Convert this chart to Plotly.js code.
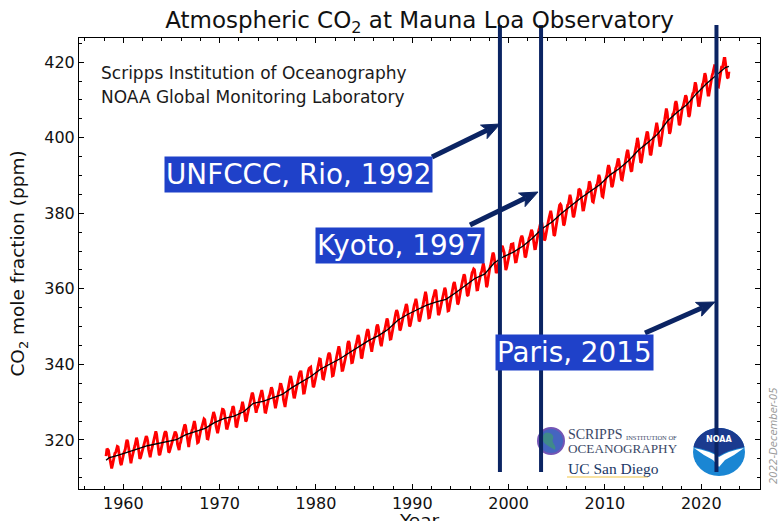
<!DOCTYPE html>
<html><head><meta charset="utf-8">
<script src="https://cdn.plot.ly/plotly-3.0.1.min.js"></script>
<style>html,body{margin:0;padding:0;background:#fff}#chart{width:779px;height:521px}</style>
</head><body><div id="chart"></div>
<script>
// ---- DATA ----
const monthlyStartYear = 1958;
const monthlyStartMonth = 3; // March 1958
const co2Monthly = [
315.70,317.45,317.51,317.24,315.86,314.93,313.20,312.43,313.33,314.67,
315.58,316.48,316.65,317.72,318.29,318.15,316.54,314.80,313.84,313.33,314.81,315.58,
316.43,316.98,317.58,319.03,320.04,319.59,318.18,315.90,314.17,313.83,315.00,316.19,
316.90,317.70,318.54,319.48,320.58,319.77,318.57,316.79,314.99,315.31,316.10,317.01,
317.94,318.55,319.68,320.57,321.02,320.62,319.61,317.40,316.25,315.42,316.69,317.70,
318.74,319.07,319.86,321.38,322.25,321.48,319.74,317.77,316.21,315.99,317.07,318.35,
319.57,320.01,320.74,321.84,322.26,321.89,320.44,318.69,316.70,316.87,317.68,318.71,
319.44,320.44,320.89,322.14,322.17,321.87,321.21,318.87,317.81,317.30,318.87,319.42,
320.62,321.60,322.39,323.70,324.08,323.75,322.38,320.36,318.64,318.10,319.79,321.03,
322.33,322.50,323.04,324.42,325.00,324.09,322.54,320.92,319.25,319.39,320.73,321.96,
322.57,323.15,323.89,325.02,325.57,325.36,324.14,322.11,320.33,320.25,321.32,322.89,
324.00,324.41,325.63,326.66,327.38,326.71,325.88,323.66,322.38,321.78,322.85,324.12,
325.06,325.98,326.93,328.13,328.08,327.67,326.34,324.69,323.10,323.06,324.01,325.13,
326.17,326.68,327.17,327.79,328.93,328.57,327.36,325.43,323.36,323.56,324.80,326.01,
326.77,327.63,327.75,329.72,330.07,329.09,328.04,326.32,324.84,325.20,326.50,327.55,
328.55,329.56,330.30,331.50,332.48,332.07,330.87,329.31,327.51,327.18,328.16,328.64,
329.35,330.71,331.48,332.65,333.19,332.20,331.07,329.15,327.33,327.28,328.31,329.58,
330.73,331.46,331.94,333.11,333.95,333.42,331.97,329.95,328.50,328.36,329.38,330.78,
331.56,332.74,333.36,334.74,334.72,333.98,333.08,330.68,328.96,328.72,330.16,331.62,
332.68,333.17,334.96,336.14,336.93,336.17,334.88,332.56,331.29,331.27,332.41,333.60,
334.95,335.25,336.66,337.69,338.03,338.01,336.41,334.41,332.37,332.41,333.75,334.90,
336.14,336.69,338.27,338.95,339.21,339.26,337.54,335.75,333.98,334.19,335.31,336.81,
337.90,338.34,340.07,340.93,341.45,341.36,339.45,337.67,336.25,336.14,337.30,338.29,
339.29,340.55,341.63,342.60,343.04,342.54,340.82,338.48,336.95,337.05,338.58,339.91,
340.93,341.76,342.78,343.96,344.77,343.88,342.42,340.24,338.38,338.41,339.44,340.78,
341.57,342.79,343.37,345.40,346.14,345.76,344.32,342.51,340.46,340.53,341.79,343.20,
344.21,344.92,345.68,347.37,347.78,347.16,345.79,343.74,341.59,341.86,343.31,345.00,
345.48,346.41,347.91,348.66,349.28,348.65,346.90,345.26,343.47,343.35,344.73,346.12,
346.78,347.48,348.25,349.86,350.52,349.98,348.25,346.17,345.48,344.82,346.22,347.48,
348.73,348.92,349.81,351.40,352.15,351.58,350.21,348.20,346.66,346.72,348.08,349.28,
350.51,351.70,352.50,353.67,354.35,353.88,352.80,350.49,348.97,349.37,350.42,351.62,
353.07,353.43,354.08,355.72,355.95,355.44,354.05,351.84,350.09,350.33,351.55,352.91,
353.86,355.10,355.75,356.38,357.38,356.39,354.89,353.06,351.38,351.69,353.14,354.41,
354.93,355.82,357.33,358.77,359.23,358.23,356.30,353.97,352.34,352.43,353.89,355.21,
356.34,357.21,357.97,359.22,359.71,359.43,357.15,354.99,353.01,353.41,354.42,355.68,
357.10,357.42,358.59,359.39,360.30,359.64,357.46,355.76,354.14,354.23,355.53,357.03,
358.36,359.04,360.11,361.36,361.78,360.94,359.51,357.59,355.86,356.21,357.65,359.10,
360.04,361.00,361.98,363.44,363.83,363.33,361.78,359.33,358.32,358.14,359.61,360.82,
362.20,363.36,364.28,364.69,365.25,365.06,363.69,361.55,359.69,359.72,361.04,362.39,
363.24,364.21,364.65,366.49,366.77,365.73,364.46,362.40,360.44,360.98,362.65,364.51,
365.39,366.10,367.36,368.79,369.56,369.13,367.98,366.10,364.16,364.54,365.67,367.30,
368.35,369.28,369.84,371.15,371.12,370.46,369.61,367.06,364.95,365.52,366.88,368.26,
369.45,369.71,370.75,371.98,371.75,371.87,370.02,368.27,367.15,367.18,368.53,369.83,
370.76,371.69,372.63,373.55,374.03,373.40,371.68,369.78,368.34,368.61,369.94,371.42,
372.70,373.37,373.85,374.88,375.64,375.15,373.95,371.91,370.58,370.60,372.01,373.79,
374.63,375.41,376.19,377.49,378.08,377.40,375.84,374.05,372.81,373.15,374.67,375.97,
377.00,377.87,378.88,380.35,380.63,379.57,377.79,375.86,374.06,374.24,375.86,377.48,
378.43,379.71,380.92,382.16,382.40,382.06,380.51,378.59,376.81,377.09,378.43,380.16,
381.38,382.17,382.47,384.33,384.91,383.98,382.37,380.51,379.02,379.23,380.74,381.93,
382.93,383.81,384.52,386.48,386.33,385.99,384.48,382.05,380.87,380.88,382.32,383.64,
385.14,385.71,385.85,386.71,388.46,387.99,386.63,384.35,383.11,382.95,384.20,385.51,
386.73,387.40,387.76,389.44,390.19,389.44,387.74,385.84,384.49,384.33,386.05,387.33,
388.61,389.54,390.19,391.88,392.75,392.11,390.29,388.52,386.93,387.25,388.58,389.98,
391.36,391.96,392.37,393.46,394.51,393.84,392.50,390.21,388.98,388.87,390.11,391.37,
393.09,393.57,394.45,396.27,396.79,395.70,394.58,392.58,391.27,391.07,392.94,394.28,
395.66,396.94,397.36,398.38,399.96,398.94,397.41,395.20,393.41,393.58,395.20,396.69,
397.78,398.31,399.40,401.05,401.65,401.20,399.11,397.03,395.38,395.62,397.18,398.71,
399.97,400.29,401.54,403.28,403.96,402.80,401.31,398.93,397.63,398.29,400.16,401.85,
402.56,404.12,404.87,407.45,407.72,406.83,404.41,402.27,401.05,401.59,403.55,404.45,
406.17,406.46,407.22,409.04,409.69,408.88,407.12,405.13,403.37,403.63,405.12,406.81,
407.96,408.32,409.41,410.24,411.24,410.79,408.71,406.99,405.51,406.00,408.02,409.07,
410.83,411.75,411.97,413.32,414.66,413.92,411.77,409.95,408.54,408.53,410.27,411.76,
413.40,414.11,414.51,416.21,417.07,416.39,414.38,412.55,411.29,411.28,412.89,414.02,
415.15,416.47,417.16,418.24,419.05,418.97,416.70,414.62,413.61,413.48,414.98,416.43,
418.01,418.99,418.45,420.02,420.99,420.99,418.90,417.19,415.95,415.78,417.51
];
// deseasonalized trend (black line): start, annual means at mid-year, end
const trendYears = [1958.21,1958.5,1959.5,1960.5,1961.5,1962.5,1963.5,1964.5,1965.5,1966.5,1967.5,
1968.5,1969.5,1970.5,1971.5,1972.5,1973.5,1974.5,1975.5,1976.5,1977.5,1978.5,1979.5,1980.5,
1981.5,1982.5,1983.5,1984.5,1985.5,1986.5,1987.5,1988.5,1989.5,1990.5,1991.5,1992.5,1993.5,
1994.5,1995.5,1996.5,1997.5,1998.5,1999.5,2000.5,2001.5,2002.5,2003.5,2004.5,2005.5,2006.5,
2007.5,2008.5,2009.5,2010.5,2011.5,2012.5,2013.5,2014.5,2015.5,2016.5,2017.5,2018.5,2019.5,
2020.5,2021.5,2022.5,2022.87];
const trendCo2 = [314.6,315.23,315.98,316.91,317.64,318.45,318.99,319.62,320.04,321.37,322.18,
323.05,324.62,325.68,326.32,327.46,329.68,330.19,331.12,332.03,333.84,335.41,336.84,338.76,
340.12,341.48,343.15,344.87,346.35,347.61,349.31,351.69,353.20,354.45,355.70,356.54,357.21,
358.96,360.97,362.74,363.88,366.84,368.54,369.71,371.32,373.45,375.98,377.70,379.98,382.09,
384.02,385.83,387.64,390.10,391.85,394.06,396.74,398.81,401.01,404.41,406.76,408.72,411.66,
414.24,416.45,418.56,418.9];
const xTickVals = [1960,1970,1980,1990,2000,2010,2020];
const yTickVals = [320,340,360,380,400,420];
const eventLabels = ['UNFCCC, Rio, 1992','Kyoto, 1997','Paris, 2015'];
const eventLineYears = [1999.1, 2003.37, 2021.58];
const sourceLines = ['Scripps Institution of Oceanography','NOAA Global Monitoring Laboratory'];
const dateStamp = '2022-December-05';

// ---- GEOMETRY ----
const W = 779, H = 521;
const L = 79, R = 760, T = 38, B = 489;
const xRange = [1955.4, 2026.1], yRange = [307.0, 426.4];
const px = x => (x - L) / (R - L);
const py = y => (B - y) / (B - T);
const yearToPaper = yr => (yr - xRange[0]) / (xRange[1] - xRange[0]);
const FONT = 'DejaVu Sans, Verdana, sans-serif';
const NAVY = '#0b2463';
const BOXBLUE = '#1f41c9';

const monthlyX = co2Monthly.map((v, i) => {
  const m = monthlyStartMonth - 1 + i;
  return monthlyStartYear + (m + 0.5) / 12;
});

const traces = [
  {x: monthlyX, y: co2Monthly, type: 'scatter', mode: 'lines',
   line: {color: '#ff0000', width: 2.8}, hoverinfo: 'skip'},
  {x: trendYears, y: trendCo2, type: 'scatter', mode: 'lines',
   line: {color: '#000000', width: 1.3}, hoverinfo: 'skip'}
];

const shapes = [];
// Scripps globe
shapes.push({type: 'circle', xref: 'paper', yref: 'paper', xsizemode: 'pixel', ysizemode: 'pixel',
  xanchor: px(551), yanchor: py(441), x0: -13, x1: 13, y0: -13, y1: 13,
  fillcolor: '#4565c0', line: {color: '#7355b5', width: 2}, layer: 'above'});
shapes.push({type: 'path', xref: 'paper', yref: 'paper', xsizemode: 'pixel', ysizemode: 'pixel',
  xanchor: px(551), yanchor: py(441),
  path: 'M -6,8 C -2,10 4,6 2,2 C 0,-2 6,-4 4,-9 C 0,-6 -6,-4 -8,0 C -9,4 -8,6 -6,8 Z',
  fillcolor: '#3f8a8a', line: {width: 0}, layer: 'above'});
// UC San Diego underline
shapes.push({type: 'line', xref: 'paper', yref: 'paper', x0: px(567), x1: px(648), y0: py(477), y1: py(477),
  line: {color: '#f1c646', width: 1.2}, layer: 'above'});
// NOAA logo
const noaaBase = {xref: 'paper', yref: 'paper', xsizemode: 'pixel', ysizemode: 'pixel',
  xanchor: px(719), yanchor: py(452), layer: 'above'};
shapes.push(Object.assign({type: 'circle', x0: -26, x1: 26, y0: -24, y1: 24,
  fillcolor: '#1a86d3', line: {width: 0}}, noaaBase));
shapes.push(Object.assign({type: 'path',
  path: 'M -25.4,5 Q -9,2 0,-4 Q 9,2 25.4,5 C 23.5,16 12.5,24 0,24 C -12.5,24 -23.5,16 -25.4,5 Z',
  fillcolor: '#1b3b8f', line: {width: 0}}, noaaBase));
shapes.push(Object.assign({type: 'path',
  path: 'M -25,4 Q -9,1 0,-5 Q 9,1 25,4 Q 16,-3 6,-8 L 0,-15 L -6,-8 Q -16,-3 -25,4 Z',
  fillcolor: '#ffffff', line: {width: 0}}, noaaBase));
// event vertical lines
eventLineYears.forEach(yr => {
  shapes.push({type: 'line', xref: 'paper', yref: 'paper',
    x0: yearToPaper(yr), x1: yearToPaper(yr), y0: py(472), y1: py(25),
    line: {color: NAVY, width: 4}, layer: 'above'});
});
// arrows drawn as shapes: head position (pixels) and tail offset (pixels, screen y down)
const arrowHeads = [[500, 124], [538, 192], [715, 302]];
const arrowOffsets = [[-68, 33], [-68, 33], [-70, 31]];
arrowHeads.forEach((h, i) => {
  const dx = -arrowOffsets[i][0], dyUp = arrowOffsets[i][1]; // tail->head vector (y up)
  const len = Math.hypot(dx, dyUp);
  const ux = dx / len, uy = dyUp / len, nx = -uy, ny = ux;
  const tailX = -dx, tailY = -dyUp;
  const hl = 18, hw = 7.5, notch = 4;
  const bx = -hl * ux, by = -hl * uy;
  const base = {xref: 'paper', yref: 'paper', xsizemode: 'pixel', ysizemode: 'pixel',
    xanchor: px(h[0]), yanchor: py(h[1]), layer: 'above'};
  shapes.push(Object.assign({type: 'path',
    path: `M ${tailX.toFixed(2)},${tailY.toFixed(2)} L ${(bx + notch * ux).toFixed(2)},${(by + notch * uy).toFixed(2)}`,
    line: {color: NAVY, width: 5}}, base));
  const p1 = [bx + hw * nx, by + hw * ny], p2 = [bx - hw * nx, by - hw * ny], pn = [bx + notch * ux, by + notch * uy];
  shapes.push(Object.assign({type: 'path',
    path: `M 0,0 L ${p1[0].toFixed(2)},${p1[1].toFixed(2)} L ${pn[0].toFixed(2)},${pn[1].toFixed(2)} L ${p2[0].toFixed(2)},${p2[1].toFixed(2)} Z`,
    fillcolor: NAVY, line: {color: NAVY, width: 1}}, base));
});

const annotations = [];
// source lines
sourceLines.forEach((t, i) => {
  annotations.push({text: t, xref: 'paper', yref: 'paper', x: px(99), y: py(i === 0 ? 73 : 97),
    xanchor: 'left', yanchor: 'middle', showarrow: false,
    font: {family: FONT, size: 17, color: '#1a1a1a'}});
});
// event label boxes
const boxCenters = [[298, 175], [400, 245], [574, 352.5]];
eventLabels.forEach((t, i) => {
  annotations.push({text: t, xref: 'paper', yref: 'paper', x: px(boxCenters[i][0]), y: py(boxCenters[i][1]),
    xanchor: 'center', yanchor: 'middle', showarrow: false, bgcolor: BOXBLUE, borderpad: 1,
    font: {family: FONT, size: 27.8, color: '#ffffff'}});
});
// logo texts
annotations.push({text: 'SCRIPPS', xref: 'paper', yref: 'paper', x: px(566), y: py(434.5),
  xanchor: 'left', yanchor: 'middle', showarrow: false,
  font: {family: 'Liberation Serif, serif', size: 14, color: '#3a4766'}});
annotations.push({text: 'INSTITUTION OF', xref: 'paper', yref: 'paper', x: px(624), y: py(437),
  xanchor: 'left', yanchor: 'middle', showarrow: false,
  font: {family: 'Liberation Serif, serif', size: 6.5, color: '#3a4766'}});
annotations.push({text: 'OCEANOGRAPHY', xref: 'paper', yref: 'paper', x: px(566), y: py(448),
  xanchor: 'left', yanchor: 'middle', showarrow: false,
  font: {family: 'Liberation Serif, serif', size: 13.2, color: '#3a4766'}});
annotations.push({text: 'UC San Diego', xref: 'paper', yref: 'paper', x: px(566), y: py(468),
  xanchor: 'left', yanchor: 'middle', showarrow: false,
  font: {family: 'Liberation Serif, serif', size: 15.5, color: '#1b3866'}});
annotations.push({text: '<b>NOAA</b>', xref: 'paper', yref: 'paper', x: px(719), y: py(439),
  xanchor: 'center', yanchor: 'middle', showarrow: false,
  font: {family: FONT, size: 8, color: '#ffffff'}});
// date stamp
annotations.push({text: '<i>' + dateStamp + '</i>', xref: 'paper', yref: 'paper', x: px(773), y: py(436),
  xanchor: 'center', yanchor: 'middle', showarrow: false, textangle: -90,
  font: {family: FONT, size: 10, color: '#9a9a9a'}});
// x axis title (partly cut off at the bottom edge, as in the original)
annotations.push({text: 'Year', xref: 'paper', yref: 'paper', x: 0.5, y: py(520),
  xanchor: 'center', yanchor: 'middle', showarrow: false,
  font: {family: FONT, size: 18.5, color: '#111'}});

const axisCommon = {
  showline: true, linecolor: '#000', linewidth: 1, mirror: 'ticks',
  ticks: 'inside', ticklen: 5, tickwidth: 1, tickcolor: '#000',
  showgrid: false, zeroline: false,
  tickfont: {family: FONT, size: 16, color: '#111'}
};

const layout = {
  width: W, height: H,
  margin: {l: L, r: W - R, t: T, b: H - B, pad: 0},
  paper_bgcolor: '#fff', plot_bgcolor: '#fff',
  showlegend: false,
  title: {text: 'Atmospheric CO<sub>2</sub> at Mauna Loa Observatory',
    font: {family: FONT, size: 23, color: '#111'},
    xref: 'paper', x: 0.5, xanchor: 'center', yref: 'container', y: 1 - 20 / H, yanchor: 'middle'},
  xaxis: Object.assign({}, axisCommon, {
    range: xRange, tickvals: xTickVals, ticktext: xTickVals.map(String),
    minor: {dtick: 2, tick0: 1960, ticks: 'inside', ticklen: 3, tickcolor: '#000', showgrid: false}
  }),
  yaxis: Object.assign({}, axisCommon, {
    range: yRange, tickvals: yTickVals, ticktext: yTickVals.map(String),
    minor: {dtick: 5, tick0: 320, ticks: 'inside', ticklen: 3, tickcolor: '#000', showgrid: false},
    title: {text: 'CO<sub>2</sub> mole fraction (ppm)', font: {family: FONT, size: 18.5, color: '#111'}, standoff: 14}
  }),
  shapes: shapes,
  annotations: annotations
};

Plotly.newPlot('chart', traces, layout, {displayModeBar: false, staticPlot: true});
</script></body></html>
